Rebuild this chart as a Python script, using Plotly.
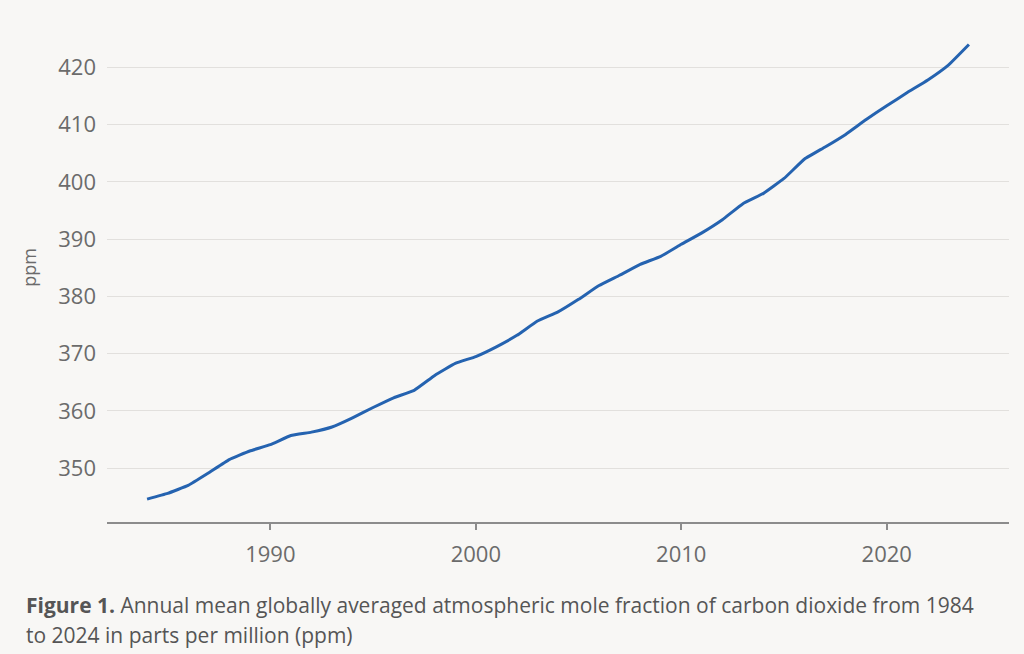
import plotly.graph_objects as go

years = list(range(1984, 2025))
co2_ppm = [344.6, 345.6, 347.0, 349.2, 351.5, 353.0, 354.1, 355.7, 356.3, 357.2,
           358.8, 360.6, 362.3, 363.6, 366.2, 368.3, 369.5, 371.2, 373.2, 375.7,
           377.3, 379.5, 381.9, 383.7, 385.6, 387.0, 389.1, 391.1, 393.4, 396.2,
           398.0, 400.6, 404.0, 406.1, 408.3, 410.9, 413.3, 415.6, 417.8, 420.4,
           424.0]
x_ticks = [1990, 2000, 2010, 2020]
y_ticks = [350, 360, 370, 380, 390, 400, 410, 420]

BG = "#f8f7f5"
TICK_FONT = "Open Sans, Roboto, sans-serif"
CAP_FONT = "Open Sans, Noto Sans, sans-serif"

fig = go.Figure()
fig.add_trace(go.Scatter(x=years, y=co2_ppm, mode="lines",
                         line=dict(color="#2563b0", width=3, shape="spline", smoothing=0.3),
                         hoverinfo="x+y", showlegend=False))

PL, PR, PT, PB = 107, 1009, 13, 522
fig.update_layout(
    width=1024, height=654,
    paper_bgcolor=BG, plot_bgcolor=BG,
    margin=dict(l=PL, r=1024 - PR, t=PT, b=654 - PB),
    xaxis=dict(range=[1982.05, 2025.95], tickvals=x_ticks, showgrid=False,
               showline=True, linecolor="#8c8c8c", linewidth=1.5,
               ticks="outside", ticklen=6, tickcolor="#8c8c8c", tickwidth=1.5,
               tickfont=dict(family=TICK_FONT, size=22, color="#6b6b6b"),
               ticklabelstandoff=6, zeroline=False),
    yaxis=dict(range=[340.6, 429.5], tickvals=y_ticks, showgrid=True,
               gridcolor="#e2e0dd", gridwidth=1, showline=False, ticks="",
               tickfont=dict(family=TICK_FONT, size=22, color="#6b6b6b"),
               ticklabelstandoff=10, zeroline=False,
               title=dict(text="ppm", standoff=16,
                          font=dict(family=TICK_FONT, size=18, color="#6b6b6b"))),
)

caption_lines = [
    "<b>Figure 1.</b> Annual mean globally averaged atmospheric mole fraction of carbon dioxide from 1984",
    "to 2024 in parts per million (ppm)",
]
for line, ypix in zip(caption_lines, [605, 635]):
    fig.add_annotation(
        xref="paper", yref="paper", x=(24 - PL) / (PR - PL), y=(PB - ypix) / (PB - PT),
        xanchor="left", yanchor="middle", align="left", showarrow=False,
        text=line, font=dict(family=CAP_FONT, size=21, color="#555555"),
    )

fig.write_html("out.html", config={"displayModeBar": False},
               post_script="document.body.style.margin='0';document.body.style.overflow='hidden';")
